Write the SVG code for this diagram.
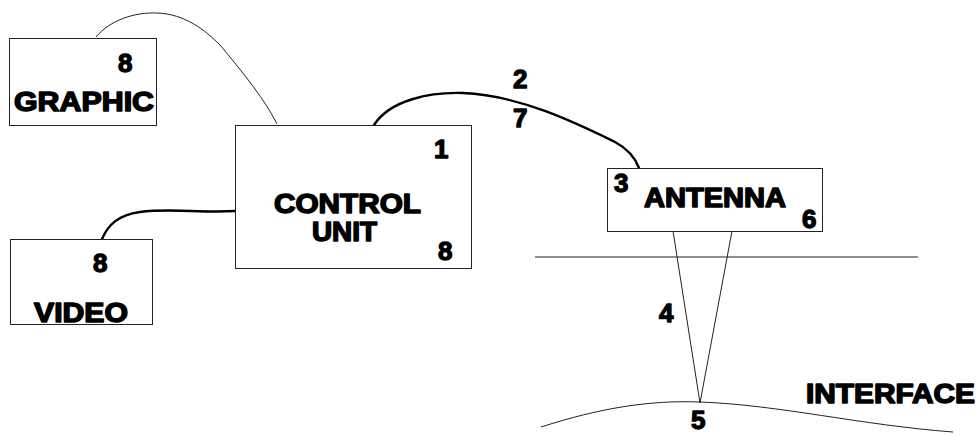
<svg xmlns="http://www.w3.org/2000/svg" width="980" height="435" viewBox="0 0 980 435">
  <style>
    .box { fill: #fff; stroke: #222; stroke-width: 1; }
    .lbl { font-family: "Liberation Sans", Arial, sans-serif; font-weight: bold; font-size: 27px; fill: #000; stroke: #000; stroke-width: 1.5; stroke-linejoin: round; }
    .num { font-family: "Liberation Sans", Arial, sans-serif; font-weight: bold; font-size: 26px; fill: #000; stroke: #000; stroke-width: 1.3; stroke-linejoin: round; }
    .thin { fill: none; stroke: #222; stroke-width: 1; }
    .thick { fill: none; stroke: #000; stroke-width: 2.4; stroke-linecap: round; }
  </style>
  <rect width="980" height="435" fill="#fff"/>

  <g id="connectors">
    <!-- graphic display to control unit -->
    <path class="thin" d="M96,37 C110,20 135,12 157,13 C185,14 205,30 220,45 C245,75 265,100 277,124"/>
    <!-- video display to control unit -->
    <path class="thick" d="M102,239 C108,225 118,215 140,212 C170,208 200,213 235,211"/>
    <!-- control unit to antenna cable -->
    <path class="thick" d="M374,125 C390,100 430,92 463,93 C520,95 580,125 615,142 C630,150 636,160 639,168"/>
    <!-- beam from antenna down to the interface -->
    <path class="thin" d="M673,231 L700,403 L732,231"/>
  </g>

  <!-- surface line and interface curve -->
  <g id="surface">
    <line class="thin" x1="535" y1="257" x2="918" y2="257"/>
    <path class="thin" d="M541,427 C600,408 650,400 700,402 C780,405 860,425 953,432"/>
  </g>

  <g id="graphic">
    <rect class="box" x="9.5" y="38.5" width="147" height="87"/>
    <text class="num" x="118" y="72">8</text>
    <text class="lbl" x="14" y="111" textLength="140" lengthAdjust="spacingAndGlyphs">GRAPHIC</text>
  </g>

  <g id="video">
    <rect class="box" x="10.5" y="239.5" width="142" height="85"/>
    <text class="num" x="93" y="272">8</text>
    <text class="lbl" x="34" y="322" textLength="94" lengthAdjust="spacingAndGlyphs">VIDEO</text>
  </g>

  <g id="control-unit">
    <rect class="box" x="235.5" y="125.5" width="236" height="143"/>
    <text class="num" x="434" y="158">1</text>
    <text class="lbl" x="274" y="213" textLength="147" lengthAdjust="spacingAndGlyphs">CONTROL</text>
    <text class="lbl" x="312" y="241" textLength="65" lengthAdjust="spacingAndGlyphs">UNIT</text>
    <text class="num" x="438" y="260">8</text>
  </g>

  <g id="antenna">
    <rect class="box" x="607.5" y="168.5" width="215" height="63"/>
    <text class="num" x="614" y="192">3</text>
    <text class="lbl" x="644" y="207" textLength="142" lengthAdjust="spacingAndGlyphs">ANTENNA</text>
    <text class="num" x="802" y="228">6</text>
  </g>

  <g id="labels">
    <text class="num" x="513" y="88">2</text>
    <text class="num" x="513" y="127">7</text>
    <text class="num" x="659" y="322">4</text>
    <text class="num" x="691" y="429">5</text>
    <text class="lbl" x="806" y="403" textLength="169" lengthAdjust="spacingAndGlyphs">INTERFACE</text>
  </g>
</svg>
